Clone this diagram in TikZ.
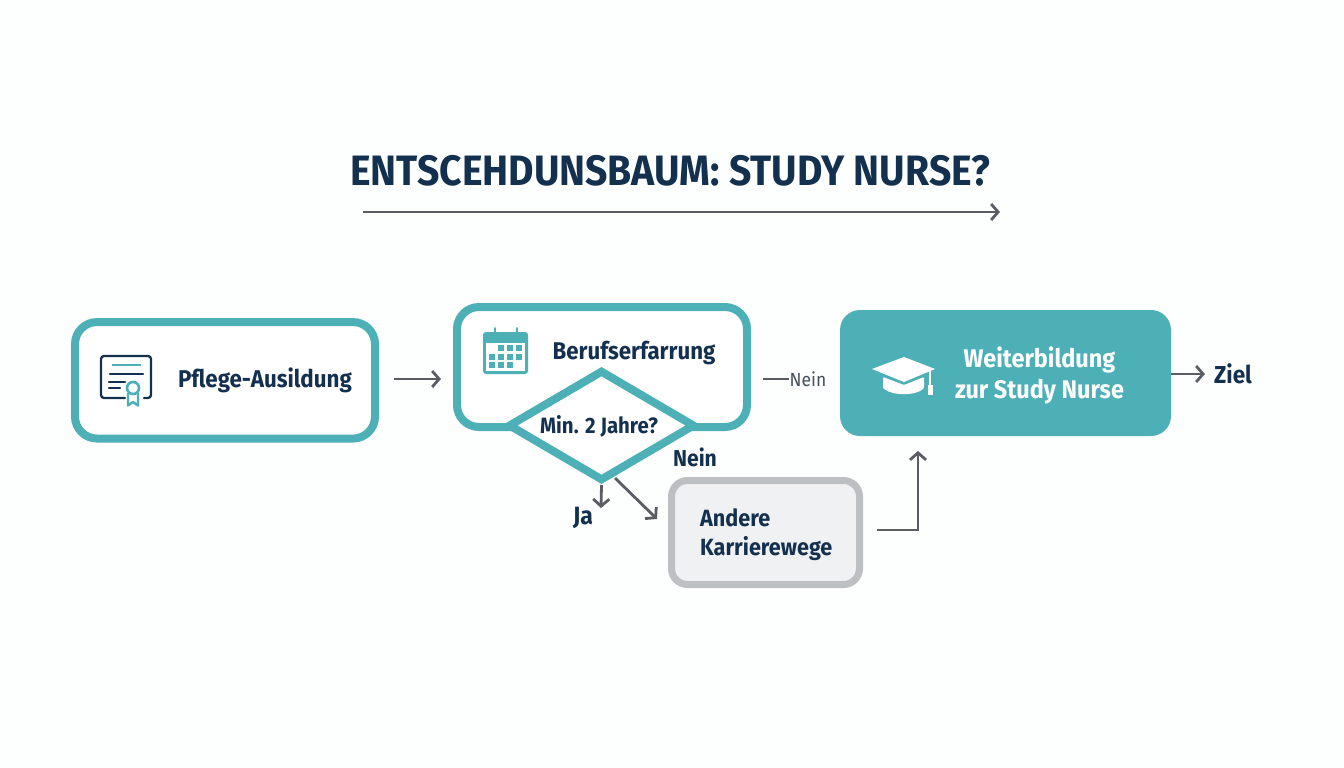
\documentclass[tikz,border=0pt]{standalone}
\usepackage{fontspec}
\setmainfont{Fira Sans}[FakeStretch=0.92]
\usetikzlibrary{shapes.geometric,arrows.meta}
\definecolor{teal1}{HTML}{4DB0B6}
\definecolor{navy}{HTML}{14304F}
\definecolor{arrowgrey}{HTML}{5A5E64}
\definecolor{boxgrey}{HTML}{BDC0C3}
\definecolor{boxfill}{HTML}{F0F1F3}
\definecolor{bgwhite}{HTML}{FDFEFE}
\tikzset{
  x=1pt,y=-1pt,
  outlinebox/.style={draw=teal1,line width=8pt,fill=white,rounded corners=22pt,inner sep=0pt},
  greybox/.style={draw=boxgrey,line width=7pt,fill=boxfill,rounded corners=16pt,inner sep=0pt},
  solidbox/.style={fill=teal1,rounded corners=20pt,inner sep=0pt},
  decision/.style={diamond,aspect=1.68,draw=teal1,line width=8pt,fill=white,inner sep=0pt,minimum width=187pt,minimum height=111pt},
  lab/.style={font=\fontsize{23}{29}\selectfont\bfseries,text=navy,inner sep=0pt},
  conn/.style={draw=arrowgrey,line width=2.8pt,-{Straight Barb[length=7pt,width=16pt,line width=2.8pt]}},
  plainconn/.style={draw=arrowgrey,line width=2.6pt},
  iconline/.style={draw=navy,line width=2.3pt,line cap=round},
}
\begin{document}
\begin{tikzpicture}
\useasboundingbox (0,0) rectangle (1344,768);
\fill[bgwhite] (0,0) rectangle (1344,768);

% title
\node[font=\fontsize{42.5}{48}\selectfont\bfseries,text=navy,inner sep=0pt] (title) at (670.5,171) {ENTSCEHDUNSBAUM: STUDY NURSE?};
\coordinate (titlea) at (363,212);
\coordinate (titleb) at (1000,212);
\draw[conn] (titlea) -- (titleb);

% boxes
\node[outlinebox,minimum width=300pt,minimum height=116.5pt] (pflege) at (225,380.3) {};
\node[outlinebox,minimum width=290pt,minimum height=120pt] (beruf) at (602,367) {};
\node[decision] (frage) at (601.5,425.5) {};
\node[greybox,minimum width=188pt,minimum height=104pt] (andere) at (765.5,532.5) {};
\node[solidbox,minimum width=331pt,minimum height=126pt] (weiter) at (1005.5,373) {};

% labels
\node[lab,font=\fontsize{24.3}{29}\selectfont\bfseries] (pflegetext) at (265,380.5) {Pflege-Ausildung};
\node[lab,font=\fontsize{24.2}{29}\selectfont\bfseries] (beruftext) at (634,353) {Berufserfarrung};
\node[lab,font=\fontsize{22.2}{29}\selectfont\bfseries] (fragetext) at (599,426) {Min. 2 Jahre?};
\node[lab] (neinb) at (695,457) {Nein};
\node[lab,font=\fontsize{25}{29}\selectfont\bfseries] (jatext) at (583,518) {Ja};
\node[lab,font=\fontsize{23.5}{29}\selectfont\bfseries,align=left,anchor=west] (anderetext) at (700,534.5) {Andere\\Karrierewege};
\node[lab,font=\fontsize{25.5}{31}\selectfont\bfseries,text=white,align=center] (weitertext) at (1039.5,375.5) {Weiterbildung\\zur Study Nurse};
\node[lab,font=\fontsize{24.5}{29}\selectfont\bfseries] (ziel) at (1233,373.5) {Ziel};
\node[font=\fontsize{19}{23}\selectfont,text=arrowgrey!70!navy,inner sep=0pt] (neina) at (808,379) {Nein};

% connectors
\coordinate (pa) at (394,379);
\coordinate (pb) at (441,379);
\draw[conn] (pa) -- (pb);
\coordinate (na) at (763,379);
\draw[plainconn] (na) -- (neina.west);
\coordinate (ja) at (601,508);
\draw[conn] (frage.south) -- (ja);
\coordinate (da) at (615,478);
\coordinate (db) at (657,519);
\draw[conn] (da) -- (db);
\coordinate (ea) at (877,530);
\coordinate (eb) at (918,451);
\draw[conn] (ea) -| (eb);
\coordinate (zb) at (1205,374);
\coordinate (za) at (1171,374);
\draw[conn] (za) -- (zb);

% certificate icon
\draw[iconline] (125,398) -- (104,398) arc[start angle=90,end angle=180,radius=3] -- (101,359) arc[start angle=180,end angle=270,radius=3] -- (148,356) arc[start angle=-90,end angle=0,radius=3] -- (151,395) arc[start angle=0,end angle=90,radius=3] -- (144,398);
\draw[draw=teal1,line width=2.6pt] (112,365) -- (141,365);
\draw[iconline] (110,374) -- (143,374);
\draw[iconline] (109,382) -- (125,382);
\draw[iconline] (109,388) -- (120,388);
\draw[draw=teal1,line width=2.4pt,line join=round] (128,393) -- (128,405.5) -- (133,402) -- (138,405.5) -- (138,393);
\draw[draw=teal1,line width=2.6pt,fill=bgwhite] (133,388) circle[radius=6];

% calendar icon
\fill[teal1,rounded corners=3pt] (483,332) rectangle (528,374);
\fill[white] (486,343) rectangle (525,371);
\draw[teal1,line width=2pt,line cap=round] (495,328) -- (495,336);
\draw[teal1,line width=2pt,line cap=round] (517,328) -- (517,336);
\foreach \gx/\gy in {501/348,510/348,519/348,492/357,501/357,510/357,519/357,492/365,501/365,510/365}{
  \fill[teal1] (\gx-2.6,\gy-2.6) rectangle (\gx+2.6,\gy+2.6);
}

% graduation cap
\fill[white,rounded corners=1pt] (883,377) -- (904,385) -- (924,377) -- (924,388) .. controls (916,396) and (892,396) .. (883,388) -- cycle;
\fill[white,line join=round] (904,357) -- (935,369) -- (904,382) -- (872,369) -- cycle;
\draw[white,line width=1.6pt] (930,370) -- (930,386);
\fill[white] (927.5,385) rectangle (932.5,394.5);
\end{tikzpicture}
\end{document}
